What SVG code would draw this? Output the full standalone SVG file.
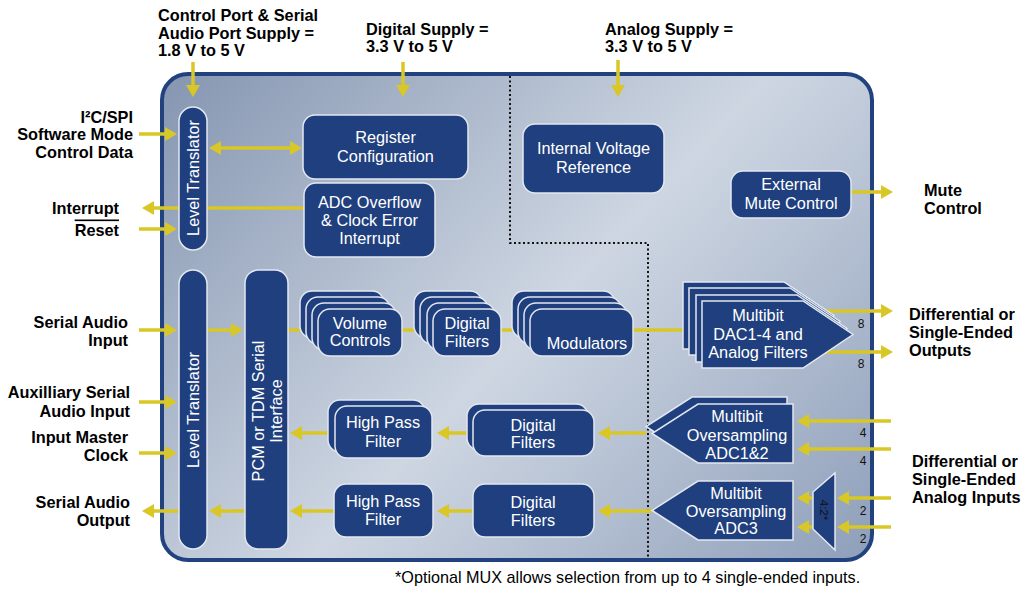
<svg xmlns="http://www.w3.org/2000/svg" width="1023" height="592" viewBox="0 0 1023 592">
<defs>
<linearGradient id="bg" gradientUnits="userSpaceOnUse" x1="219" y1="15" x2="834" y2="600">
<stop offset="0" stop-color="#8596b1"/>
<stop offset="0.52" stop-color="#ced6e2"/>
<stop offset="1" stop-color="#8e9fba"/>
</linearGradient>
<marker id="ah" viewBox="0 0 12 14" refX="4" refY="7" markerWidth="12" markerHeight="14" markerUnits="userSpaceOnUse" orient="auto-start-reverse">
<path d="M0,0 L12,7 L0,14 z" fill="#d9c725"/>
</marker>
<style>
.blk{fill:#203f7e;stroke:#e2e8f1;stroke-width:1.5}
.wt{fill:#fff;font-family:"Liberation Sans",Arial,sans-serif;font-size:16.3px;text-anchor:middle}
.lb{fill:#000;font-family:"Liberation Sans",Arial,sans-serif;font-size:16.3px;font-weight:bold}
.num{fill:#111;font-family:"Liberation Sans",Arial,sans-serif;font-size:12px;text-anchor:middle}
.con{fill:none;stroke:#d9c725;stroke-width:3.5}
.arr{marker-end:url(#ah)}
</style>
</defs>
<rect width="1023" height="592" fill="#fff"/>
<g id="chip">
<rect x="162" y="74" width="710" height="486" rx="26" fill="url(#bg)" stroke="#22427f" stroke-width="4"/>
<path d="M510,76 V243 H648 V558" fill="none" stroke="#111" stroke-width="2" stroke-dasharray="2 2.5"/>
</g>
<g id="connectors" class="con">
<path class="arr" d="M193,62 V89"/>
<path class="arr" d="M403,62 V89"/>
<path class="arr" d="M618,60 V89"/>
<path class="arr" d="M139,134 H169"/>
<path d="M217,148 H294" marker-start="url(#ah)" marker-end="url(#ah)"/>
<path class="arr" d="M304,208 H150"/>
<path class="arr" d="M139,229 H169"/>
<path class="arr" d="M851,192 H885"/>
<path class="arr" d="M139,330 H169"/>
<path class="arr" d="M207,330 H235"/>
<path d="M288,330 H702"/>
<path class="arr" d="M139,402 H169"/>
<path class="arr" d="M139,453 H169"/>
<path class="arr" d="M179,511 H150"/>
<path class="arr" d="M245,511 H217"/>
<path class="arr" d="M334,511 H298"/>
<path class="arr" d="M328,433 H298"/>
<path class="arr" d="M467,433 H445"/>
<path class="arr" d="M473,511 H445"/>
<path class="arr" d="M646,433 H606"/>
<path class="arr" d="M652,511 H606"/>
<path class="arr" d="M818,311 H885"/>
<path class="arr" d="M818,352 H885"/>
<path class="arr" d="M891,421 H805"/>
<path class="arr" d="M891,449 H805"/>
<path class="arr" d="M891,498 H845"/>
<path class="arr" d="M891,527 H845"/>
<path class="arr" d="M813,498 H805"/>
<path class="arr" d="M813,527 H805"/>
</g>
<g id="level-translator-top">
<rect class="blk" x="179" y="107" width="28" height="143" rx="14"/>
<text class="wt" transform="translate(198.5,178) rotate(-90)">Level Translator</text>
</g>
<g id="register-configuration">
<rect class="blk" x="303" y="115" width="165" height="64" rx="12"/>
<text class="wt" x="385.5" y="142.5">Register</text>
<text class="wt" x="385.5" y="161.5">Configuration</text>
</g>
<g id="adc-overflow">
<rect class="blk" x="304" y="183" width="131" height="74" rx="12"/>
<text class="wt" x="369.5" y="207.5">ADC Overflow</text>
<text class="wt" x="369.5" y="225.5">&amp; Clock Error</text>
<text class="wt" x="369.5" y="243.5">Interrupt</text>
</g>
<g id="internal-voltage-reference">
<rect class="blk" x="523" y="124" width="141" height="69" rx="12"/>
<text class="wt" x="593.5" y="153.5">Internal Voltage</text>
<text class="wt" x="593.5" y="172.5">Reference</text>
</g>
<g id="external-mute-control">
<rect class="blk" x="731" y="171" width="120" height="47" rx="12"/>
<text class="wt" x="791" y="189.5">External</text>
<text class="wt" x="791" y="208.5">Mute Control</text>
</g>
<g id="level-translator-bottom">
<rect class="blk" x="179" y="270" width="28" height="279" rx="14"/>
<text class="wt" transform="translate(198.5,410) rotate(-90)">Level Translator</text>
</g>
<g id="pcm-tdm-interface">
<rect class="blk" x="245" y="270" width="43" height="279" rx="13"/>
<text class="wt" transform="translate(263.5,411) rotate(-90)">PCM or TDM Serial</text>
<text class="wt" transform="translate(281.5,411) rotate(-90)">Interface</text>
</g>
<g id="volume-controls">
<rect class="blk" x="300" y="291" width="84" height="47" rx="12"/>
<rect class="blk" x="306" y="297" width="84" height="47" rx="12"/>
<rect class="blk" x="312" y="303" width="84" height="47" rx="12"/>
<rect class="blk" x="318" y="309" width="84" height="47" rx="12"/>
<text class="wt" x="360" y="328.5">Volume</text>
<text class="wt" x="360" y="345.5">Controls</text>
</g>
<g id="dac-digital-filters">
<rect class="blk" x="414" y="291" width="68" height="47" rx="12"/>
<rect class="blk" x="420" y="297" width="68" height="47" rx="12"/>
<rect class="blk" x="427" y="303" width="68" height="47" rx="12"/>
<rect class="blk" x="433" y="309" width="68" height="47" rx="12"/>
<text class="wt" x="467" y="328.5">Digital</text>
<text class="wt" x="467" y="346.5">Filters</text>
</g>
<g id="modulators">
<rect class="blk" x="512" y="291" width="103" height="47" rx="12"/>
<rect class="blk" x="518" y="297" width="103" height="47" rx="12"/>
<rect class="blk" x="524" y="303" width="103" height="47" rx="12"/>
<rect class="blk" x="530" y="309" width="103" height="47" rx="12"/>
<text class="wt" x="587" y="348.5">Modulators</text>
</g>
<g id="dac">
<polygon class="blk" transform="translate(-19,-19)" points="702,301 803,301 853,334.5 803,368 702,368"/>
<polygon class="blk" transform="translate(-13,-13)" points="702,301 803,301 853,334.5 803,368 702,368"/>
<polygon class="blk" transform="translate(-6,-6)" points="702,301 803,301 853,334.5 803,368 702,368"/>
<polygon class="blk" points="702,301 803,301 853,334.5 803,368 702,368"/>
<text class="wt" x="758" y="320.5">Multibit</text>
<text class="wt" x="758" y="339.5">DAC1-4 and</text>
<text class="wt" x="758" y="357.5">Analog Filters</text>
</g>
<g id="adc12">
<polygon class="blk" points="692,397 787,397 787,456 692,456 646,426.5"/>
<polygon class="blk" points="698,404 793,404 793,463 698,463 652,433.5"/>
<text class="wt" x="737" y="421.5">Multibit</text>
<text class="wt" x="737" y="440.5">Oversampling</text>
<text class="wt" x="737" y="458.5">ADC1&amp;2</text>
</g>
<g id="adc3">
<polygon class="blk" points="698,481 793,481 793,540 698,540 652,510.5"/>
<text class="wt" x="736" y="498.5">Multibit</text>
<text class="wt" x="736" y="516.5">Oversampling</text>
<text class="wt" x="736" y="533.5">ADC3</text>
</g>
<g id="mux">
<polygon class="blk" points="813,492 835,473 835,550 813,529"/>
<text transform="translate(820,510) rotate(90)" style="fill:#111;font-family:'Liberation Sans',Arial,sans-serif;font-size:11.5px;text-anchor:middle">4:2*</text>
</g>
<g id="adc-digital-filters-1">
<rect class="blk" x="467" y="404" width="121" height="46" rx="12"/>
<rect class="blk" x="473" y="410" width="121" height="46" rx="12"/>
<text class="wt" x="533" y="430.5">Digital</text>
<text class="wt" x="533" y="447.5">Filters</text>
</g>
<g id="adc-digital-filters-2">
<rect class="blk" x="473" y="484" width="121" height="53" rx="12"/>
<text class="wt" x="533" y="507.5">Digital</text>
<text class="wt" x="533" y="525.5">Filters</text>
</g>
<g id="high-pass-filter-1">
<rect class="blk" x="328" y="400" width="97" height="52" rx="12"/>
<rect class="blk" x="335" y="406" width="97" height="52" rx="12"/>
<text class="wt" x="383" y="427.5">High Pass</text>
<text class="wt" x="383" y="446.5">Filter</text>
</g>
<g id="high-pass-filter-2">
<rect class="blk" x="334" y="484" width="99" height="53" rx="12"/>
<text class="wt" x="383" y="506.5">High Pass</text>
<text class="wt" x="383" y="524.5">Filter</text>
</g>
<g id="channel-counts" class="num">
<text x="861" y="328">8</text>
<text x="861" y="368">8</text>
<text x="863" y="437">4</text>
<text x="863" y="465">4</text>
<text x="863" y="515">2</text>
<text x="863" y="543">2</text>
</g>
<g id="labels" class="lb">
<text x="158" y="21">Control Port &amp; Serial</text>
<text x="158" y="39">Audio Port Supply =</text>
<text x="158" y="56">1.8 V to 5 V</text>
<text x="366" y="35">Digital Supply =</text>
<text x="366" y="52">3.3 V to 5 V</text>
<text x="605" y="35">Analog Supply =</text>
<text x="605" y="52">3.3 V to 5 V</text>
<g text-anchor="end">
<text x="133" y="123">I²C/SPI</text>
<text x="133" y="140">Software Mode</text>
<text x="133" y="157.5">Control Data</text>
<text x="119" y="213.5">Interrupt</text>
<text x="119" y="235.5" text-decoration="overline">Reset</text>
<text x="128" y="327.5">Serial Audio</text>
<text x="128" y="345.5">Input</text>
<text x="130" y="397.5">Auxilliary Serial</text>
<text x="130" y="416.5">Audio Input</text>
<text x="128" y="442.5">Input Master</text>
<text x="128" y="460.5">Clock</text>
<text x="130" y="507.5">Serial Audio</text>
<text x="130" y="525.5">Output</text>
</g>
<text x="924" y="195.5">Mute</text>
<text x="924" y="213.5">Control</text>
<text x="909" y="319.5">Differential or</text>
<text x="909" y="337.5">Single-Ended</text>
<text x="909" y="356">Outputs</text>
<text x="912" y="466.5">Differential or</text>
<text x="912" y="484.5">Single-Ended</text>
<text x="912" y="502.5">Analog Inputs</text>
</g>
<text x="395" y="583" style="fill:#000;font-family:'Liberation Sans',Arial,sans-serif;font-size:16.2px">*Optional MUX allows selection from up to 4 single-ended inputs.</text>
</svg>
